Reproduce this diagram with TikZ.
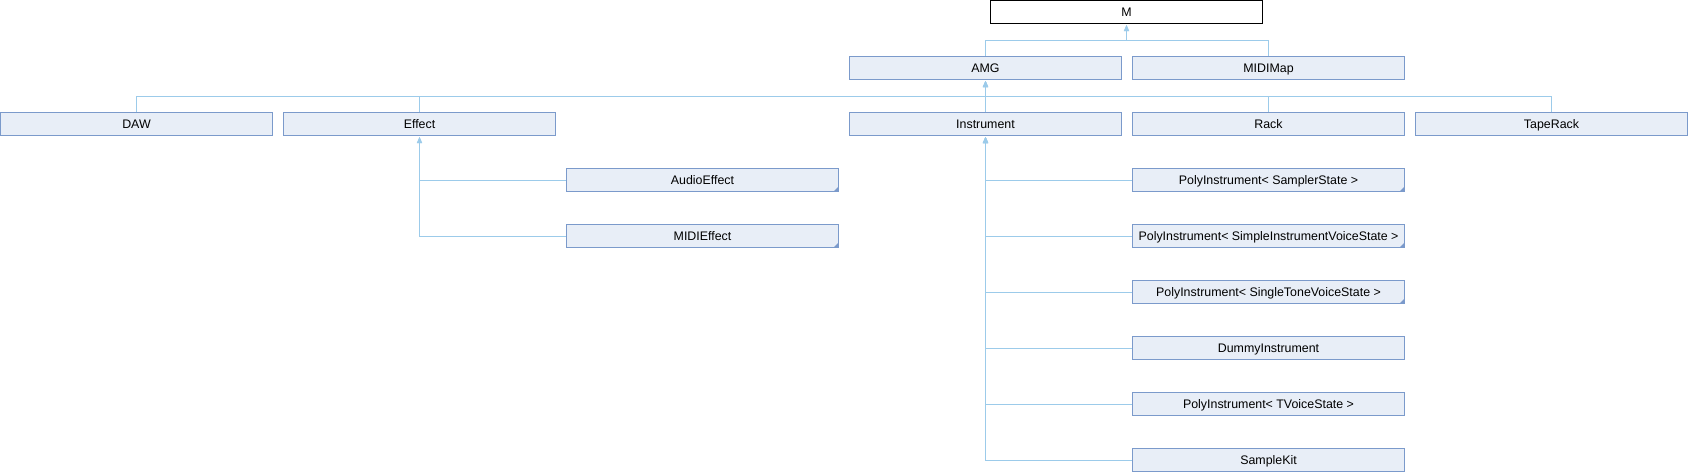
\documentclass[tikz,border=0pt]{standalone}
\usepackage{fontspec}
\setmainfont{Liberation Sans}
\usetikzlibrary{arrows.meta}
\definecolor{boxfill}{HTML}{E8EEF7}
\definecolor{boxdraw}{HTML}{7B9ACB}
\definecolor{edgecol}{HTML}{9CCBEA}
\begin{document}
\begin{tikzpicture}[x=1pt,y=-1pt,
  cls/.style={draw=boxdraw, fill=boxfill, line width=1pt, minimum width=272pt, minimum height=23pt,
    inner sep=0pt, text height=8.9pt, text depth=0pt, font=\fontsize{12.4}{14}\selectfont},
  rootcls/.style={cls, draw=black, fill=white},
  inh/.style={draw=edgecol, line width=1pt, -{Triangle[width=5pt,length=6pt]}, shorten >=1pt},
  more/.style={path picture={\fill[boxdraw] (path picture bounding box.south east) -- ++(-5,0) -- ++(5,-5) -- cycle;}}
]
\useasboundingbox (0,0) rectangle (1688,472);
\node[rootcls] (m) at (1126.5,12) {M};
\node[cls] (amg) at (985.5,68) {AMG};
\node[cls] (midimap) at (1268.5,68) {MIDIMap};
\node[cls] (daw) at (136.5,124) {DAW};
\node[cls] (effect) at (419.5,124) {Effect};
\node[cls] (instrument) at (985.5,124) {Instrument};
\node[cls] (rack) at (1268.5,124) {Rack};
\node[cls] (taperack) at (1551.5,124) {TapeRack};
\node[cls,more] (audioeffect) at (702.5,180) {AudioEffect};
\node[cls,more] (midieffect) at (702.5,236) {MIDIEffect};
\node[cls,more] (polysampler) at (1268.5,180) {PolyInstrument<  SamplerState  >};
\node[cls,more] (polysimple) at (1268.5,236) {PolyInstrument<  SimpleInstrumentVoiceState  >};
\node[cls,more] (polysingle) at (1268.5,292) {PolyInstrument<  SingleToneVoiceState  >};
\node[cls] (dummy) at (1268.5,348) {DummyInstrument};
\node[cls] (polytvoice) at (1268.5,404) {PolyInstrument<  TVoiceState  >};
\node[cls] (samplekit) at (1268.5,460) {SampleKit};

\draw[inh] (amg.north) -- ++(0,-16) -| (m.south);
\draw[inh] (midimap.north) -- ++(0,-16) -| (m.south);
\foreach \c in {daw,effect,instrument,rack,taperack}
  \draw[inh] (\c.north) -- ++(0,-16) -| (amg.south);
\foreach \c in {audioeffect,midieffect}
  \draw[inh] (\c.west) -| (effect.south);
\foreach \c in {polysampler,polysimple,polysingle,dummy,polytvoice,samplekit}
  \draw[inh] (\c.west) -| (instrument.south);
\end{tikzpicture}
\end{document}
